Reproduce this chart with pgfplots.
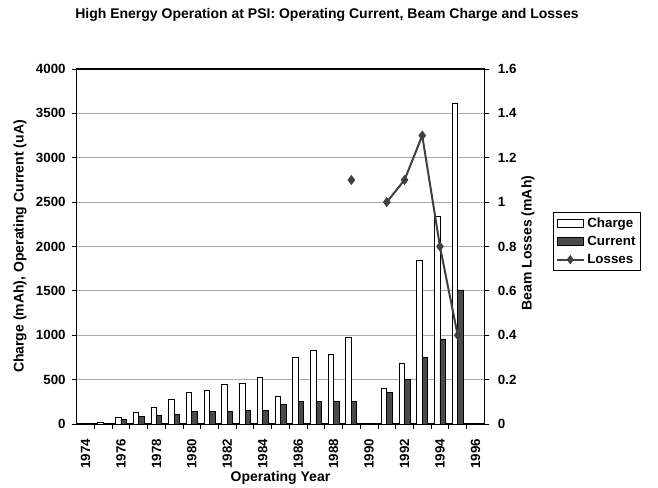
\documentclass[border=0pt]{standalone}
\usepackage{pgfplots}
\pgfplotsset{compat=1.18}
\usepackage{pgfplotstable}
\usepackage{fontspec}
\setmainfont{Liberation Sans}
\definecolor{barDark}{HTML}{4A4A4A}
\definecolor{lineDark}{HTML}{404040}
\definecolor{gridGray}{HTML}{A8A8A8}

\pgfplotstableread{
year charge current
1974 10 5
1975 15 10
1976 80 56
1977 131 83
1978 191 98
1979 282 109
1980 360 143
1981 379 143
1982 447 139
1983 462 154
1984 522 150
1985 315 222
1986 751 252
1987 834 252
1988 789 252
1989 976 252
1991 398 353
1992 680 503
1993 1845 751
1994 2335 954
1995 3615 1510
}\chargetable

\pgfplotstableread{
year losses
1989 1.1
1990 nan
1991 1.0
1992 1.1
1993 1.3
1994 0.8
1995 0.4
}\losstable

\begin{document}
\begin{tikzpicture}
\path[use as bounding box] (-57.5pt,-47.25pt) rectangle (436pt,318pt);
\pgfplotsset{
  every axis/.append style={font=\bfseries\fontsize{10}{12}\selectfont},
  /pgf/number format/.cd, 1000 sep={}, assume math mode=true,
}
\begin{axis}[
  scale only axis, width=305.7pt, height=266.25pt,
  at={(0pt,0pt)}, anchor=south west,
  xmin=1973.5, xmax=1996.5,
  ymin=0, ymax=4000,
  ybar=0pt, bar width=4.1pt,
  xtick={1974,1976,...,1996},
  xticklabels={1974,1976,1978,1980,1982,1984,1986,1988,1990,1992,1994,1996},
  minor xtick={1974.5,1975.5,...,1995.5},
  major x tick style={draw=none},
  minor tick length=3.75pt,
  major tick length=3.75pt,
  tick align=outside,
  xtick pos=bottom, ytick pos=left,
  ytick={0,500,...,4000},
  scaled ticks=false,
  xticklabel style={rotate=90, anchor=east, yshift=0pt, xshift=-4pt},
  yticklabel style={xshift=-1pt},
  ymajorgrids,
  major grid style={gridGray, line width=0.6pt},
  axis line style={black, line width=0.8pt},
  tick style={black, line width=0.6pt},
  xlabel={Operating Year},
  ylabel={Charge (mAh), Operating Current (uA)},
  xlabel style={at={(axis description cs:0.5,-0.152)}, anchor=center, font=\bfseries\fontsize{10.5}{12}\selectfont},
  ylabel style={at={(axis description cs:-0.139,0.5)}, anchor=center, font=\bfseries\fontsize{10.5}{12}\selectfont},
]
\addplot[draw=black, fill=white, line width=0.6pt] table[x=year, y=charge] {\chargetable};
\addplot[draw=black, fill=barDark, line width=0.6pt] table[x=year, y=current] {\chargetable};
\end{axis}
\begin{axis}[
  scale only axis, width=305.7pt, height=266.25pt,
  at={(0pt,0pt)}, anchor=south west,
  xmin=1973.5, xmax=1996.5,
  ymin=0, ymax=1.6,
  axis x line=none,
  axis y line*=right,
  ytick={0,0.2,0.4,0.6,0.8,1,1.2,1.4,1.6},
  yticklabels={0,0.2,0.4,0.6,0.8,1,1.2,1.4,1.6},
  major tick length=3.75pt,
  tick align=outside,
  yticklabel style={xshift=3pt},
  axis line style={black, line width=0.8pt},
  tick style={black, line width=0.6pt},
  ylabel={Beam Losses (mAh)},
  ylabel style={at={(axis description cs:1.107,0.51)}, anchor=center, rotate=0, font=\bfseries\fontsize{10.5}{12}\selectfont},
  unbounded coords=jump,
  legend style={at={(rel axis cs:1.1686,0.597)}, anchor=north west, draw=black, line width=0.5pt, fill=white,
    font=\bfseries\fontsize{10}{12}\selectfont, inner xsep=2pt, inner ysep=2pt, row sep=1pt},
  legend cell align=left,
]
\addlegendimage{legend image code/.code={\draw[black, fill=white, line width=0.6pt] (0pt,-3pt) rectangle (20pt,3pt);}}
\addlegendentry{Charge}
\addlegendimage{legend image code/.code={\draw[black, fill=barDark, line width=0.6pt] (0pt,-3pt) rectangle (20pt,3pt);}}
\addlegendentry{Current}
\addplot[color=lineDark, line width=1.5pt, mark=diamond*, mark size=2.6pt,
  legend image code/.code={\draw[mark repeat=2, mark phase=2, mark size=2.3pt] plot coordinates {(0pt,0pt) (10pt,0pt) (20pt,0pt)};}]
  table[x=year, y=losses] {\losstable};
\addlegendentry{Losses}
\end{axis}
\node[font=\bfseries\fontsize{10.5}{12}\selectfont] at (187.7pt,306.75pt) {High Energy Operation at PSI: Operating Current, Beam Charge and Losses};
\end{tikzpicture}
\end{document}
